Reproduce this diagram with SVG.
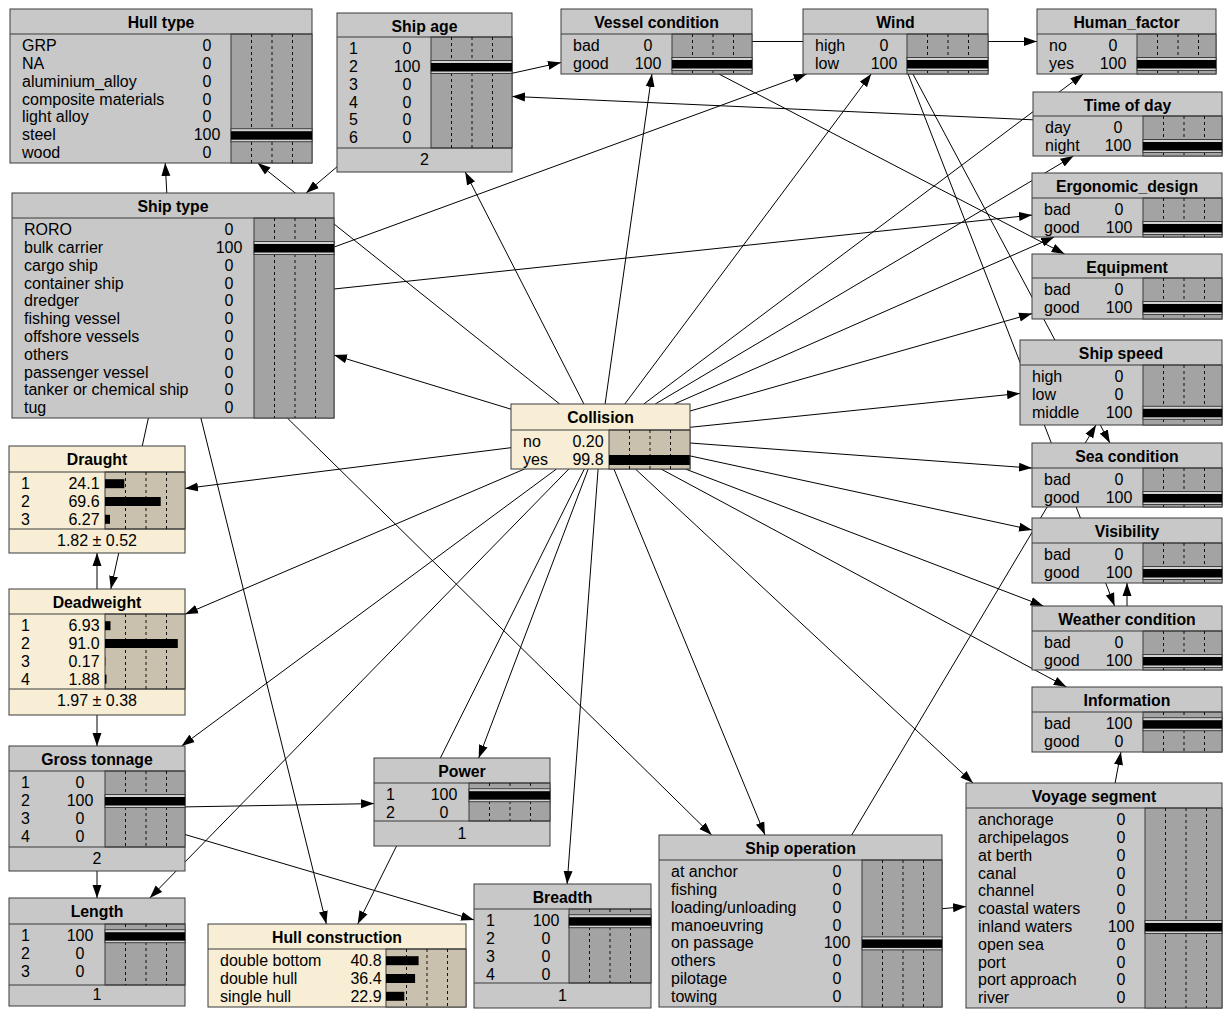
<svg xmlns="http://www.w3.org/2000/svg" width="1224" height="1009" viewBox="0 0 1224 1009">
<defs>
<marker id="arrow" markerUnits="userSpaceOnUse" markerWidth="14" markerHeight="10" refX="13" refY="5" orient="auto"><path d="M0,0.5 L13,5 L0,9.5 z" fill="#000"/></marker>
</defs>
<style>
.box{fill:#c8c8c8;stroke:#3a3a3a;stroke-width:1}
.bar{fill:#a3a3a3;stroke:#3a3a3a;stroke-width:1}
.ybox{fill:#f7eed5;stroke:#3a3a3a;stroke-width:1}
.ybar{fill:#c9c1ad;stroke:#3a3a3a;stroke-width:1}
.sep{stroke:#3a3a3a;stroke-width:1}
.dash{stroke:#111;stroke-width:1;stroke-dasharray:3 3;fill:none}
.frm{fill:#d2d2d2;stroke:#404040;stroke-width:1}
.blk{fill:#000}
text{font-family:"Liberation Sans",Arial,sans-serif;font-size:16px;fill:#000}
.ttl{font-weight:bold;font-size:15.8px;text-anchor:middle}
.val,.ftr{text-anchor:middle}
.edge{stroke:#000;stroke-width:1;fill:none;marker-end:url(#arrow)}
</style>
<rect x="0" y="0" width="1224" height="1009" fill="#fff"/>
<g id="connectors">
<line class="edge" x1="559.7" y1="404" x2="257.6" y2="163"/>
<line class="edge" x1="583.9" y1="404" x2="465.2" y2="172"/>
<line class="edge" x1="605.1" y1="404" x2="651.9" y2="74"/>
<line class="edge" x1="624.8" y1="404" x2="871.2" y2="74"/>
<line class="edge" x1="643.8" y1="404" x2="1083.2" y2="74"/>
<line class="edge" x1="655.3" y1="404" x2="1073.5" y2="156"/>
<line class="edge" x1="674.4" y1="404" x2="1054.2" y2="237"/>
<line class="edge" x1="690" y1="411" x2="1032" y2="313.6"/>
<line class="edge" x1="690" y1="427.3" x2="1020" y2="393.4"/>
<line class="edge" x1="690" y1="443" x2="1032" y2="468.1"/>
<line class="edge" x1="690" y1="455.9" x2="1032" y2="529.9"/>
<line class="edge" x1="685.4" y1="469" x2="1043.4" y2="606"/>
<line class="edge" x1="661" y1="469" x2="1066.5" y2="687"/>
<line class="edge" x1="635.4" y1="469" x2="973" y2="783"/>
<line class="edge" x1="613.9" y1="469" x2="765" y2="835"/>
<line class="edge" x1="598.1" y1="469" x2="567.1" y2="884"/>
<line class="edge" x1="588.2" y1="469" x2="478.7" y2="758"/>
<line class="edge" x1="584.3" y1="469" x2="357.7" y2="924"/>
<line class="edge" x1="568.8" y1="469" x2="149.8" y2="898"/>
<line class="edge" x1="556.5" y1="469" x2="181.6" y2="746"/>
<line class="edge" x1="524.6" y1="469" x2="185" y2="614.3"/>
<line class="edge" x1="511" y1="447.7" x2="185" y2="488.5"/>
<line class="edge" x1="511" y1="409.2" x2="334" y2="355.1"/>
<line class="edge" x1="166.8" y1="193" x2="165.2" y2="163"/>
<line class="edge" x1="337" y1="166.8" x2="306.1" y2="193"/>
<line class="edge" x1="334" y1="247.1" x2="806.7" y2="74"/>
<line class="edge" x1="334" y1="289" x2="1032" y2="215.1"/>
<line class="edge" x1="148.4" y1="418" x2="110.8" y2="589"/>
<line class="edge" x1="200.9" y1="418" x2="326.4" y2="924"/>
<line class="edge" x1="287.3" y1="418" x2="711.7" y2="835"/>
<line class="edge" x1="512" y1="73.3" x2="561" y2="62.5"/>
<line class="edge" x1="1033" y1="119.8" x2="512" y2="96.4"/>
<line class="edge" x1="752" y1="41.5" x2="1037" y2="41.5"/>
<line class="edge" x1="718.9" y1="74" x2="1064.6" y2="254"/>
<line class="edge" x1="912.9" y1="74" x2="1109.9" y2="443"/>
<line class="edge" x1="908.1" y1="74" x2="1114.6" y2="606"/>
<line class="edge" x1="1127" y1="606" x2="1127" y2="583"/>
<line class="edge" x1="851.7" y1="835" x2="1096" y2="425"/>
<line class="edge" x1="942" y1="908.7" x2="966" y2="906.6"/>
<line class="edge" x1="1115.1" y1="783" x2="1120.9" y2="752"/>
<line class="edge" x1="97" y1="589" x2="97" y2="553"/>
<line class="edge" x1="97" y1="715" x2="97" y2="746"/>
<line class="edge" x1="97" y1="871" x2="97" y2="898"/>
<line class="edge" x1="185" y1="806.9" x2="374" y2="803.6"/>
<line class="edge" x1="185" y1="834.5" x2="474" y2="919.9"/>
</g>

<g id="node-hull-type">
<rect class="box" x="10" y="9" width="302" height="154"/>
<rect class="bar" x="231" y="34" width="81" height="129"/>
<line class="sep" x1="10" y1="34" x2="312" y2="34"/>
<path class="dash" d="M251.5 34V163M272 34V163M292.5 34V163"/>
<rect class="frm" x="231" y="128.7" width="81" height="13"/>
<rect class="blk" x="231" y="131.2" width="81" height="8.5"/>
<text class="ttl" x="161" y="28">Hull type</text>
<text x="22" y="51.1">GRP</text><text class="val" x="207" y="51.1">0</text>
<text x="22" y="68.9">NA</text><text class="val" x="207" y="68.9">0</text>
<text x="22" y="86.7">aluminium_alloy</text><text class="val" x="207" y="86.7">0</text>
<text x="22" y="104.5">composite materials</text><text class="val" x="207" y="104.5">0</text>
<text x="22" y="122.3">light alloy</text><text class="val" x="207" y="122.3">0</text>
<text x="22" y="140.1">steel</text><text class="val" x="207" y="140.1">100</text>
<text x="22" y="157.9">wood</text><text class="val" x="207" y="157.9">0</text>
</g>

<g id="node-ship-age">
<rect class="box" x="337" y="13" width="175" height="159"/>
<rect class="bar" x="431" y="37" width="81" height="111"/>
<line class="sep" x1="337" y1="37" x2="512" y2="37"/>
<line class="sep" x1="337" y1="148" x2="512" y2="148"/>
<path class="dash" d="M451.5 37V148M472 37V148M492.5 37V148"/>
<rect class="frm" x="431" y="60.5" width="81" height="13"/>
<rect class="blk" x="431" y="63" width="81" height="8.5"/>
<text class="ttl" x="424.5" y="32">Ship age</text>
<text x="349" y="54.1">1</text><text class="val" x="407" y="54.1">0</text>
<text x="349" y="71.9">2</text><text class="val" x="407" y="71.9">100</text>
<text x="349" y="89.7">3</text><text class="val" x="407" y="89.7">0</text>
<text x="349" y="107.5">4</text><text class="val" x="407" y="107.5">0</text>
<text x="349" y="125.3">5</text><text class="val" x="407" y="125.3">0</text>
<text x="349" y="143.1">6</text><text class="val" x="407" y="143.1">0</text>
<text class="ftr" x="424.5" y="165">2</text>
</g>

<g id="node-vessel-condition">
<rect class="box" x="561" y="9" width="191" height="65"/>
<rect class="bar" x="672" y="34" width="80" height="40"/>
<line class="sep" x1="561" y1="34" x2="752" y2="34"/>
<path class="dash" d="M692.5 34V74M713 34V74M733.5 34V74"/>
<rect class="frm" x="672" y="57.5" width="80" height="13"/>
<rect class="blk" x="672" y="60" width="80" height="8.5"/>
<text class="ttl" x="656.5" y="28">Vessel condition</text>
<text x="573" y="51.1">bad</text><text class="val" x="648" y="51.1">0</text>
<text x="573" y="68.9">good</text><text class="val" x="648" y="68.9">100</text>
</g>

<g id="node-wind">
<rect class="box" x="803" y="9" width="185" height="65"/>
<rect class="bar" x="907" y="34" width="81" height="40"/>
<line class="sep" x1="803" y1="34" x2="988" y2="34"/>
<path class="dash" d="M927.5 34V74M948 34V74M968.5 34V74"/>
<rect class="frm" x="907" y="57.5" width="81" height="13"/>
<rect class="blk" x="907" y="60" width="81" height="8.5"/>
<text class="ttl" x="895.5" y="28">Wind</text>
<text x="815" y="51.1">high</text><text class="val" x="884" y="51.1">0</text>
<text x="815" y="68.9">low</text><text class="val" x="884" y="68.9">100</text>
</g>

<g id="node-human-factor">
<rect class="box" x="1037" y="9" width="179" height="65"/>
<rect class="bar" x="1137" y="34" width="79" height="40"/>
<line class="sep" x1="1037" y1="34" x2="1216" y2="34"/>
<path class="dash" d="M1157.5 34V74M1178 34V74M1198.5 34V74"/>
<rect class="frm" x="1137" y="57.5" width="79" height="13"/>
<rect class="blk" x="1137" y="60" width="79" height="8.5"/>
<text class="ttl" x="1126.5" y="28">Human_factor</text>
<text x="1049" y="51.1">no</text><text class="val" x="1113" y="51.1">0</text>
<text x="1049" y="68.9">yes</text><text class="val" x="1113" y="68.9">100</text>
</g>

<g id="node-time-of-day">
<rect class="box" x="1033" y="92" width="189" height="64"/>
<rect class="bar" x="1143" y="116" width="79" height="40"/>
<line class="sep" x1="1033" y1="116" x2="1222" y2="116"/>
<path class="dash" d="M1163.5 116V156M1184 116V156M1204.5 116V156"/>
<rect class="frm" x="1143" y="139.5" width="79" height="13"/>
<rect class="blk" x="1143" y="142" width="79" height="8.5"/>
<text class="ttl" x="1127.5" y="111">Time of day</text>
<text x="1045" y="133.1">day</text><text class="val" x="1118" y="133.1">0</text>
<text x="1045" y="150.9">night</text><text class="val" x="1118" y="150.9">100</text>
</g>

<g id="node-ergonomic-design">
<rect class="box" x="1032" y="173" width="190" height="64"/>
<rect class="bar" x="1143" y="198" width="79" height="39"/>
<line class="sep" x1="1032" y1="198" x2="1222" y2="198"/>
<path class="dash" d="M1163.5 198V237M1184 198V237M1204.5 198V237"/>
<rect class="frm" x="1143" y="221.5" width="79" height="13"/>
<rect class="blk" x="1143" y="224" width="79" height="8.5"/>
<text class="ttl" x="1127" y="192">Ergonomic_design</text>
<text x="1044" y="215.1">bad</text><text class="val" x="1119" y="215.1">0</text>
<text x="1044" y="232.9">good</text><text class="val" x="1119" y="232.9">100</text>
</g>

<g id="node-equipment">
<rect class="box" x="1032" y="254" width="190" height="65"/>
<rect class="bar" x="1143" y="278" width="79" height="41"/>
<line class="sep" x1="1032" y1="278" x2="1222" y2="278"/>
<path class="dash" d="M1163.5 278V319M1184 278V319M1204.5 278V319"/>
<rect class="frm" x="1143" y="301.5" width="79" height="13"/>
<rect class="blk" x="1143" y="304" width="79" height="8.5"/>
<text class="ttl" x="1127" y="273">Equipment</text>
<text x="1044" y="295.1">bad</text><text class="val" x="1119" y="295.1">0</text>
<text x="1044" y="312.9">good</text><text class="val" x="1119" y="312.9">100</text>
</g>

<g id="node-ship-speed">
<rect class="box" x="1020" y="340" width="202" height="85"/>
<rect class="bar" x="1143" y="365" width="79" height="60"/>
<line class="sep" x1="1020" y1="365" x2="1222" y2="365"/>
<path class="dash" d="M1163.5 365V425M1184 365V425M1204.5 365V425"/>
<rect class="frm" x="1143" y="406.3" width="79" height="13"/>
<rect class="blk" x="1143" y="408.8" width="79" height="8.5"/>
<text class="ttl" x="1121" y="359">Ship speed</text>
<text x="1032" y="382.1">high</text><text class="val" x="1119" y="382.1">0</text>
<text x="1032" y="399.9">low</text><text class="val" x="1119" y="399.9">0</text>
<text x="1032" y="417.7">middle</text><text class="val" x="1119" y="417.7">100</text>
</g>

<g id="node-sea-condition">
<rect class="box" x="1032" y="443" width="190" height="64"/>
<rect class="bar" x="1143" y="468" width="79" height="39"/>
<line class="sep" x1="1032" y1="468" x2="1222" y2="468"/>
<path class="dash" d="M1163.5 468V507M1184 468V507M1204.5 468V507"/>
<rect class="frm" x="1143" y="491.5" width="79" height="13"/>
<rect class="blk" x="1143" y="494" width="79" height="8.5"/>
<text class="ttl" x="1127" y="462">Sea condition</text>
<text x="1044" y="485.1">bad</text><text class="val" x="1119" y="485.1">0</text>
<text x="1044" y="502.9">good</text><text class="val" x="1119" y="502.9">100</text>
</g>

<g id="node-visibility">
<rect class="box" x="1032" y="518" width="190" height="65"/>
<rect class="bar" x="1143" y="543" width="79" height="40"/>
<line class="sep" x1="1032" y1="543" x2="1222" y2="543"/>
<path class="dash" d="M1163.5 543V583M1184 543V583M1204.5 543V583"/>
<rect class="frm" x="1143" y="566.5" width="79" height="13"/>
<rect class="blk" x="1143" y="569" width="79" height="8.5"/>
<text class="ttl" x="1127" y="537">Visibility</text>
<text x="1044" y="560.1">bad</text><text class="val" x="1119" y="560.1">0</text>
<text x="1044" y="577.9">good</text><text class="val" x="1119" y="577.9">100</text>
</g>

<g id="node-weather-condition">
<rect class="box" x="1032" y="606" width="190" height="64"/>
<rect class="bar" x="1143" y="631" width="79" height="39"/>
<line class="sep" x1="1032" y1="631" x2="1222" y2="631"/>
<path class="dash" d="M1163.5 631V670M1184 631V670M1204.5 631V670"/>
<rect class="frm" x="1143" y="654.5" width="79" height="13"/>
<rect class="blk" x="1143" y="657" width="79" height="8.5"/>
<text class="ttl" x="1127" y="625">Weather condition</text>
<text x="1044" y="648.1">bad</text><text class="val" x="1119" y="648.1">0</text>
<text x="1044" y="665.9">good</text><text class="val" x="1119" y="665.9">100</text>
</g>

<g id="node-information">
<rect class="box" x="1032" y="687" width="190" height="65"/>
<rect class="bar" x="1143" y="712" width="79" height="40"/>
<line class="sep" x1="1032" y1="712" x2="1222" y2="712"/>
<path class="dash" d="M1163.5 712V752M1184 712V752M1204.5 712V752"/>
<rect class="frm" x="1143" y="717.7" width="79" height="13"/>
<rect class="blk" x="1143" y="720.2" width="79" height="8.5"/>
<text class="ttl" x="1127" y="706">Information</text>
<text x="1044" y="729.1">bad</text><text class="val" x="1119" y="729.1">100</text>
<text x="1044" y="746.9">good</text><text class="val" x="1119" y="746.9">0</text>
</g>

<g id="node-ship-type">
<rect class="box" x="12" y="193" width="322" height="225"/>
<rect class="bar" x="254" y="218" width="80" height="200"/>
<line class="sep" x1="12" y1="218" x2="334" y2="218"/>
<path class="dash" d="M274.5 218V418M295 218V418M315.5 218V418"/>
<rect class="frm" x="254" y="241.5" width="80" height="13"/>
<rect class="blk" x="254" y="244" width="80" height="8.5"/>
<text class="ttl" x="173" y="212">Ship type</text>
<text x="24" y="235.1">RORO</text><text class="val" x="229" y="235.1">0</text>
<text x="24" y="252.9">bulk carrier</text><text class="val" x="229" y="252.9">100</text>
<text x="24" y="270.7">cargo ship</text><text class="val" x="229" y="270.7">0</text>
<text x="24" y="288.5">container ship</text><text class="val" x="229" y="288.5">0</text>
<text x="24" y="306.3">dredger</text><text class="val" x="229" y="306.3">0</text>
<text x="24" y="324.1">fishing vessel</text><text class="val" x="229" y="324.1">0</text>
<text x="24" y="341.9">offshore vessels</text><text class="val" x="229" y="341.9">0</text>
<text x="24" y="359.7">others</text><text class="val" x="229" y="359.7">0</text>
<text x="24" y="377.5">passenger vessel</text><text class="val" x="229" y="377.5">0</text>
<text x="24" y="395.3">tanker or chemical ship</text><text class="val" x="229" y="395.3">0</text>
<text x="24" y="413.1">tug</text><text class="val" x="229" y="413.1">0</text>
</g>

<g id="node-collision">
<rect class="ybox" x="511" y="404" width="179" height="65"/>
<rect class="ybar" x="609" y="430" width="81" height="39"/>
<line class="sep" x1="511" y1="430" x2="690" y2="430"/>
<path class="dash" d="M629.5 430V469M650 430V469M670.5 430V469"/>
<rect class="blk" x="609" y="455" width="80.8" height="10"/>
<text class="ttl" x="600.5" y="423">Collision</text>
<text x="523" y="447.1">no</text><text class="val" x="588" y="447.1">0.20</text>
<text x="523" y="464.9">yes</text><text class="val" x="588" y="464.9">99.8</text>
</g>

<g id="node-draught">
<rect class="ybox" x="9" y="446" width="176" height="107"/>
<rect class="ybar" x="105" y="472" width="80" height="57"/>
<line class="sep" x1="9" y1="472" x2="185" y2="472"/>
<line class="sep" x1="9" y1="529" x2="185" y2="529"/>
<path class="dash" d="M125.5 472V529M146 472V529M166.5 472V529"/>
<rect class="blk" x="105" y="479.2" width="19.3" height="9"/>
<rect class="blk" x="105" y="497" width="55.7" height="9"/>
<rect class="blk" x="105" y="514.8" width="5" height="9"/>
<text class="ttl" x="97" y="465">Draught</text>
<text x="21" y="489.1">1</text><text class="val" x="84" y="489.1">24.1</text>
<text x="21" y="506.9">2</text><text class="val" x="84" y="506.9">69.6</text>
<text x="21" y="524.7">3</text><text class="val" x="84" y="524.7">6.27</text>
<text class="ftr" x="97" y="546">1.82 ± 0.52</text>
</g>

<g id="node-deadweight">
<rect class="ybox" x="9" y="589" width="176" height="126"/>
<rect class="ybar" x="105" y="614" width="80" height="75"/>
<line class="sep" x1="9" y1="614" x2="185" y2="614"/>
<line class="sep" x1="9" y1="689" x2="185" y2="689"/>
<path class="dash" d="M125.5 614V689M146 614V689M166.5 614V689"/>
<rect class="blk" x="105" y="621.2" width="5.5" height="9"/>
<rect class="blk" x="105" y="639" width="72.8" height="9"/>
<rect class="blk" x="105" y="656.8" width="0.3" height="9"/>
<rect class="blk" x="105" y="674.6" width="1.5" height="9"/>
<text class="ttl" x="97" y="608">Deadweight</text>
<text x="21" y="631.1">1</text><text class="val" x="84" y="631.1">6.93</text>
<text x="21" y="648.9">2</text><text class="val" x="84" y="648.9">91.0</text>
<text x="21" y="666.7">3</text><text class="val" x="84" y="666.7">0.17</text>
<text x="21" y="684.5">4</text><text class="val" x="84" y="684.5">1.88</text>
<text class="ftr" x="97" y="706">1.97 ± 0.38</text>
</g>

<g id="node-gross-tonnage">
<rect class="box" x="9" y="746" width="176" height="125"/>
<rect class="bar" x="105" y="771" width="80" height="76"/>
<line class="sep" x1="9" y1="771" x2="185" y2="771"/>
<line class="sep" x1="9" y1="847" x2="185" y2="847"/>
<path class="dash" d="M125.5 771V847M146 771V847M166.5 771V847"/>
<rect class="frm" x="105" y="794.5" width="80" height="13"/>
<rect class="blk" x="105" y="797" width="80" height="8.5"/>
<text class="ttl" x="97" y="765">Gross tonnage</text>
<text x="21" y="788.1">1</text><text class="val" x="80" y="788.1">0</text>
<text x="21" y="805.9">2</text><text class="val" x="80" y="805.9">100</text>
<text x="21" y="823.7">3</text><text class="val" x="80" y="823.7">0</text>
<text x="21" y="841.5">4</text><text class="val" x="80" y="841.5">0</text>
<text class="ftr" x="97" y="864">2</text>
</g>

<g id="node-length">
<rect class="box" x="9" y="898" width="176" height="108"/>
<rect class="bar" x="105" y="924" width="80" height="61"/>
<line class="sep" x1="9" y1="924" x2="185" y2="924"/>
<line class="sep" x1="9" y1="985" x2="185" y2="985"/>
<path class="dash" d="M125.5 924V985M146 924V985M166.5 924V985"/>
<rect class="frm" x="105" y="929.7" width="80" height="13"/>
<rect class="blk" x="105" y="932.2" width="80" height="8.5"/>
<text class="ttl" x="97" y="917">Length</text>
<text x="21" y="941.1">1</text><text class="val" x="80" y="941.1">100</text>
<text x="21" y="958.9">2</text><text class="val" x="80" y="958.9">0</text>
<text x="21" y="976.7">3</text><text class="val" x="80" y="976.7">0</text>
<text class="ftr" x="97" y="1000">1</text>
</g>

<g id="node-hull-construction">
<rect class="ybox" x="208" y="924" width="258" height="83"/>
<rect class="ybar" x="386" y="949" width="80" height="58"/>
<line class="sep" x1="208" y1="949" x2="466" y2="949"/>
<path class="dash" d="M406.5 949V1007M427 949V1007M447.5 949V1007"/>
<rect class="blk" x="386" y="956.2" width="32.6" height="9"/>
<rect class="blk" x="386" y="974" width="29.1" height="9"/>
<rect class="blk" x="386" y="991.8" width="18.3" height="9"/>
<text class="ttl" x="337" y="943">Hull construction</text>
<text x="220" y="966.1">double bottom</text><text class="val" x="366" y="966.1">40.8</text>
<text x="220" y="983.9">double hull</text><text class="val" x="366" y="983.9">36.4</text>
<text x="220" y="1001.7">single hull</text><text class="val" x="366" y="1001.7">22.9</text>
</g>

<g id="node-power">
<rect class="box" x="374" y="758" width="176" height="88"/>
<rect class="bar" x="469" y="783" width="81" height="38"/>
<line class="sep" x1="374" y1="783" x2="550" y2="783"/>
<line class="sep" x1="374" y1="821" x2="550" y2="821"/>
<path class="dash" d="M489.5 783V821M510 783V821M530.5 783V821"/>
<rect class="frm" x="469" y="788.7" width="81" height="13"/>
<rect class="blk" x="469" y="791.2" width="81" height="8.5"/>
<text class="ttl" x="462" y="777">Power</text>
<text x="386" y="800.1">1</text><text class="val" x="444" y="800.1">100</text>
<text x="386" y="817.9">2</text><text class="val" x="444" y="817.9">0</text>
<text class="ftr" x="462" y="839">1</text>
</g>

<g id="node-breadth">
<rect class="box" x="474" y="884" width="177" height="124"/>
<rect class="bar" x="569" y="909" width="82" height="74"/>
<line class="sep" x1="474" y1="909" x2="651" y2="909"/>
<line class="sep" x1="474" y1="983" x2="651" y2="983"/>
<path class="dash" d="M589.5 909V983M610 909V983M630.5 909V983"/>
<rect class="frm" x="569" y="914.7" width="82" height="13"/>
<rect class="blk" x="569" y="917.2" width="82" height="8.5"/>
<text class="ttl" x="562.5" y="903">Breadth</text>
<text x="486" y="926.1">1</text><text class="val" x="546" y="926.1">100</text>
<text x="486" y="943.9">2</text><text class="val" x="546" y="943.9">0</text>
<text x="486" y="961.7">3</text><text class="val" x="546" y="961.7">0</text>
<text x="486" y="979.5">4</text><text class="val" x="546" y="979.5">0</text>
<text class="ftr" x="562.5" y="1001">1</text>
</g>

<g id="node-ship-operation">
<rect class="box" x="659" y="835" width="283" height="172"/>
<rect class="bar" x="862" y="860" width="80" height="147"/>
<line class="sep" x1="659" y1="860" x2="942" y2="860"/>
<path class="dash" d="M882.5 860V1007M903 860V1007M923.5 860V1007"/>
<rect class="frm" x="862" y="936.9" width="80" height="13"/>
<rect class="blk" x="862" y="939.4" width="80" height="8.5"/>
<text class="ttl" x="800.5" y="854">Ship operation</text>
<text x="671" y="877.1">at anchor</text><text class="val" x="837" y="877.1">0</text>
<text x="671" y="894.9">fishing</text><text class="val" x="837" y="894.9">0</text>
<text x="671" y="912.7">loading/unloading</text><text class="val" x="837" y="912.7">0</text>
<text x="671" y="930.5">manoeuvring</text><text class="val" x="837" y="930.5">0</text>
<text x="671" y="948.3">on passage</text><text class="val" x="837" y="948.3">100</text>
<text x="671" y="966.1">others</text><text class="val" x="837" y="966.1">0</text>
<text x="671" y="983.9">pilotage</text><text class="val" x="837" y="983.9">0</text>
<text x="671" y="1001.7">towing</text><text class="val" x="837" y="1001.7">0</text>
</g>

<g id="node-voyage-segment">
<rect class="box" x="966" y="783" width="256" height="225"/>
<rect class="bar" x="1145" y="808" width="77" height="200"/>
<line class="sep" x1="966" y1="808" x2="1222" y2="808"/>
<path class="dash" d="M1165.5 808V1008M1186 808V1008M1206.5 808V1008"/>
<rect class="frm" x="1145" y="920.5" width="77" height="13"/>
<rect class="blk" x="1145" y="923" width="77" height="8.5"/>
<text class="ttl" x="1094" y="802">Voyage segment</text>
<text x="978" y="825.1">anchorage</text><text class="val" x="1121" y="825.1">0</text>
<text x="978" y="842.9">archipelagos</text><text class="val" x="1121" y="842.9">0</text>
<text x="978" y="860.7">at berth</text><text class="val" x="1121" y="860.7">0</text>
<text x="978" y="878.5">canal</text><text class="val" x="1121" y="878.5">0</text>
<text x="978" y="896.3">channel</text><text class="val" x="1121" y="896.3">0</text>
<text x="978" y="914.1">coastal waters</text><text class="val" x="1121" y="914.1">0</text>
<text x="978" y="931.9">inland waters</text><text class="val" x="1121" y="931.9">100</text>
<text x="978" y="949.7">open sea</text><text class="val" x="1121" y="949.7">0</text>
<text x="978" y="967.5">port</text><text class="val" x="1121" y="967.5">0</text>
<text x="978" y="985.3">port approach</text><text class="val" x="1121" y="985.3">0</text>
<text x="978" y="1003.1">river</text><text class="val" x="1121" y="1003.1">0</text>
</g>
</svg>
